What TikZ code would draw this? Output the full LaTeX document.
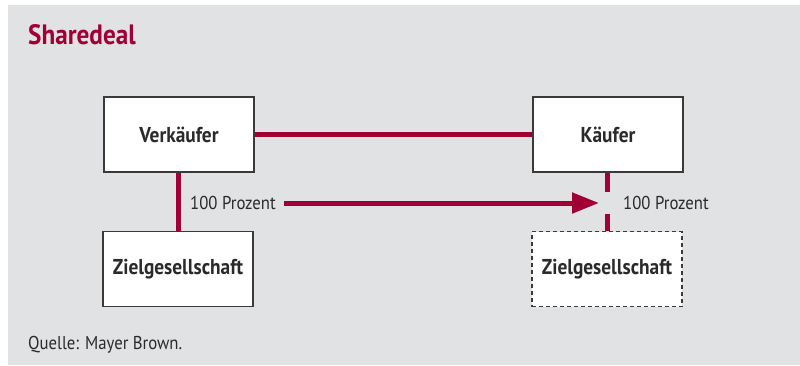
\documentclass[tikz,border=0pt]{standalone}
\usepackage{fontspec}
\setmainfont{PT Sans}[FakeStretch=0.9]
\usetikzlibrary{arrows.meta}
\definecolor{bg}{HTML}{E1E2E3}
\definecolor{crim}{HTML}{A10035}
\definecolor{txt}{HTML}{2A2A2A}
\definecolor{frame}{HTML}{3A3A3A}
\tikzset{
  entity/.style={draw=frame, line width=1.2pt, fill=white, minimum width=150pt, minimum height=75pt, inner sep=0pt, font=\fontsize{21.5}{24}\selectfont\bfseries, text=txt},
  dashentity/.style={entity, dash pattern=on 4pt off 3pt},
  link/.style={draw=crim, line width=5pt},
  lbl/.style={font=\fontsize{18.6}{22}\selectfont, text=txt, inner sep=0pt}
}
\begin{document}
\begin{tikzpicture}[x=1pt,y=-1pt]
\useasboundingbox (0,0) rectangle (800,365);
\fill[bg] (8,5) rectangle (800,365);
\node[anchor=base west, inner sep=0pt, text=crim, font=\fontsize{28}{32}\selectfont\bfseries] (title) at (28,44) {Sharedeal};
\node[entity] (v) at (179,134.5) {Verkäufer};
\node[entity] (k) at (608,134.5) {Käufer};
\node[entity] (z1) at (178,269) {Zielgesellschaft};
\node[dashentity] (z2) at (607,269) {Zielgesellschaft};
\node[lbl, anchor=west] (p1) at (190,203) {100 Prozent};
\node[lbl, anchor=west] (p2) at (623,203) {100 Prozent};
\coordinate (as) at (284,203);
\coordinate (ae) at (599,203);
\draw[link] (v.east) -- (k.west);
\draw[link] (v.south -| z1.north) -- (z1.north);
\draw[link, dash pattern=on 19pt off 22pt on 19pt] (k.south -| z2.north) -- (z2.north);
\draw[link, -{Triangle[length=27pt,width=20pt]}] (as) -- (ae);
\node[anchor=base west, inner sep=0pt, text=txt, font=\fontsize{18.6}{22}\selectfont] (src) at (28,349) {Quelle: Mayer Brown.};
\end{tikzpicture}
\end{document}
